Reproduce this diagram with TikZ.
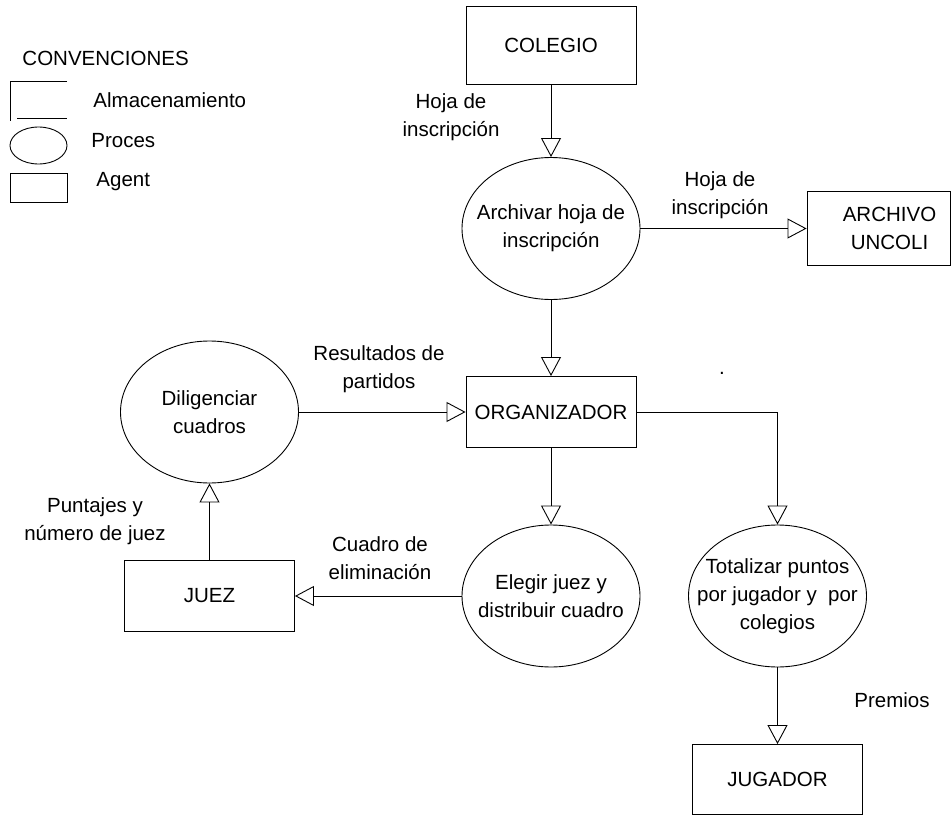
\documentclass[tikz,border=0pt]{standalone}
\usepackage{fontspec}
\setmainfont{Liberation Sans}
\usetikzlibrary{shapes.geometric,arrows.meta}

\begin{document}
\begin{tikzpicture}[x=1pt,y=-1pt,line width=0.9pt,
  every node/.style={font=\fontsize{20.5}{28}\selectfont},
  agente/.style={draw,rectangle,minimum width=170pt,minimum height=71pt,inner sep=0pt,align=center},
  proceso/.style={draw,ellipse,minimum width=178pt,minimum height=142pt,inner sep=0pt},
  etiqueta/.style={align=center,inner sep=0pt},
  leyenda/.style={anchor=west,inner sep=0pt},
  flujo/.style={-{Triangle[open,length=19pt,width=20pt]}}]
\useasboundingbox (0,0) rectangle (951,816);

% convenciones
\node[leyenda] (convenciones) at (22,58) {CONVENCIONES};
\draw (67,81) -- (10,81) -- (10,121);
\draw (17,118) -- (67,118);
\node[leyenda] (almacen) at (93,100) {Almacenamiento};
\node[draw,ellipse,minimum width=57pt,minimum height=37pt,inner sep=0pt] (leyproc) at (38.5,145.5) {};
\node[leyenda] (proces) at (91,141) {Proces};
\node[draw,minimum width=57pt,minimum height=29pt,inner sep=0pt] (leyagent) at (38.5,187.5) {};
\node[leyenda] (agent) at (96,182) {Agent};

% agentes
\node[agente,minimum height=78pt] (colegio) at (551,45) {COLEGIO};
\node[agente,minimum width=143pt,minimum height=74pt] (archivo) at (878.5,228.5) {\hspace*{22pt}ARCHIVO\\\hspace*{22pt}UNCOLI};
\node[agente] (organizador) at (551,412) {ORGANIZADOR};
\node[agente] (juez) at (209.5,596) {JUEZ};
\node[agente,minimum height=70pt] (jugador) at (777.5,779.5) {JUGADOR};

% procesos
\node[proceso,label={[etiqueta]center:{Archivar hoja de\\inscripción}}] (archivar) at (551,228.5) {};
\node[proceso,label={[etiqueta]center:{Diligenciar\\cuadros}}] (diligenciar) at (209.5,412) {};
\node[proceso,label={[etiqueta]center:{Elegir juez y\\distribuir cuadro}}] (elegir) at (551,596) {};
\node[proceso,label={[etiqueta]center:{Totalizar puntos\\por jugador y\ \ por\\colegios}}] (totalizar) at (777.5,596) {};

% flujos
\draw[flujo] (colegio) -- (archivar);
\draw[flujo] (archivar) -- (archivo);
\draw[flujo] (archivar) -- (organizador);
\draw[flujo] (diligenciar) -- (organizador);
\draw[flujo] (organizador) -- (elegir);
\draw[flujo] (organizador.east) -| (totalizar.north);
\draw[flujo] (elegir) -- (juez);
\draw[flujo] (juez) -- (diligenciar);
\draw[flujo] (totalizar) -- (jugador);

% etiquetas de los flujos
\node[etiqueta] (hoja1) at (451,117) {Hoja de\\inscripción};
\node[etiqueta] (hoja2) at (720,195) {Hoja de\\inscripción};
\node[etiqueta] (resultados) at (379,369) {Resultados de\\partidos};
\node[etiqueta] (puntajes) at (95,521) {Puntajes y\\número de juez};
\node[etiqueta] (cuadro) at (380,558) {Cuadro de\\eliminación};
\node[etiqueta] (premios) at (892,700) {Premios};
\node[etiqueta] (punto) at (722,373) {.};
\end{tikzpicture}
\end{document}
